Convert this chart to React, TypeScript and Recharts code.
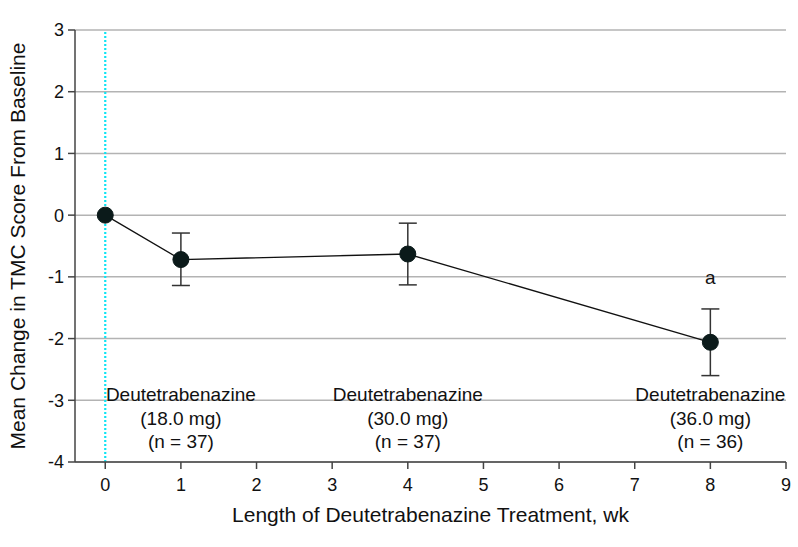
import { ComposedChart, Line, XAxis, YAxis, CartesianGrid, ReferenceLine, ReferenceDot, ErrorBar, Label } from 'recharts';

const weeks = [0, 1, 4, 8];
const meanChange = [0, -0.72, -0.63, -2.06];
const lowerCI = [null, -1.14, -1.13, -2.6];
const upperCI = [null, -0.29, -0.13, -1.52];

const xTicks = [0, 1, 2, 3, 4, 5, 6, 7, 8, 9];
const yTicks = [-4, -3, -2, -1, 0, 1, 2, 3];

const doseWeeks = [1, 4, 8];
const doseLabels = ['(18.0 mg)', '(30.0 mg)', '(36.0 mg)'];
const doseN = ['(n = 37)', '(n = 37)', '(n = 36)'];

const FONT = '"Liberation Sans", Arial, sans-serif';

const data = weeks.map((w, i) => ({
  week: w,
  mean: meanChange[i],
  err: lowerCI[i] == null ? undefined : [meanChange[i] - (lowerCI[i] as number), (upperCI[i] as number) - meanChange[i]],
}));

function DoseLabel(props: any) {
  const { viewBox, dose, n } = props;
  const x = viewBox.x + (viewBox.width || 0) / 2;
  const y = viewBox.y + (viewBox.height || 0) / 2;
  return (
    <text x={x} textAnchor="middle" fontSize={19} fontFamily={FONT} fill="#111">
      <tspan x={x} y={y + 1}>Deutetrabenazine</tspan>
      <tspan x={x} y={y + 25}>{dose}</tspan>
      <tspan x={x} y={y + 48}>{n}</tspan>
    </text>
  );
}

function SigLabel(props: any) {
  const { viewBox } = props;
  const x = viewBox.x + (viewBox.width || 0) / 2;
  const y = viewBox.y + (viewBox.height || 0) / 2;
  return (
    <text x={x} y={y - 25} textAnchor="middle" fontSize={19} fontFamily={FONT} fill="#111">
      a
    </text>
  );
}

export default function App() {
  return (
    <div style={{ position: 'absolute', left: 0, top: 0, background: '#fff' }}>
      <ComposedChart width={798} height={547} data={data} margin={{ top: 30, right: 12, bottom: 25, left: 0 }}>
        <CartesianGrid vertical={false} stroke="#b3b3b3" strokeWidth={1.5} />
        <XAxis
          dataKey="week"
          type="number"
          domain={[-0.4, 9]}
          ticks={xTicks}
          height={60}
          tickSize={7}
          tickMargin={9}
          stroke="#444"
          strokeWidth={1.5}
          tick={{ fontSize: 18, fill: '#111', fontFamily: FONT }}
          allowDataOverflow
        >
          <Label value="Length of Deutetrabenazine Treatment, wk" position="insideBottom" offset={0} style={{ fontSize: 21, fill: '#111', fontFamily: FONT }} />
        </XAxis>
        <YAxis
          type="number"
          domain={[-4, 3]}
          ticks={yTicks}
          width={75}
          tickSize={7}
          tickMargin={4}
          stroke="#444"
          strokeWidth={1.5}
          tick={{ fontSize: 18, fill: '#111', fontFamily: FONT }}
        >
          <Label value="Mean Change in TMC Score From Baseline" angle={-90} position="insideLeft" offset={18} style={{ textAnchor: 'middle', fontSize: 21, fill: '#111', fontFamily: FONT }} />
        </YAxis>
        <ReferenceLine x={0} stroke="#10e4f4" strokeWidth={2.2} strokeDasharray="2 2" />
        {doseWeeks.map((w, i) => (
          <ReferenceDot key={w} x={w} y={-3} r={0} stroke="none" fill="none" label={<DoseLabel dose={doseLabels[i]} n={doseN[i]} />} />
        ))}
        <ReferenceDot x={8} y={upperCI[3] as number} r={0} stroke="none" fill="none" label={<SigLabel />} />
        <Line
          dataKey="mean"
          type="linear"
          stroke="#111"
          strokeWidth={1.3}
          dot={{ r: 8, fill: '#0b1a1a', stroke: '#0b1a1a', strokeWidth: 1 }}
          activeDot={false}
          isAnimationActive={false}
        >
          <ErrorBar dataKey="err" width={9} stroke="#333" strokeWidth={1.5} direction="y" />
        </Line>
      </ComposedChart>
    </div>
  );
}
